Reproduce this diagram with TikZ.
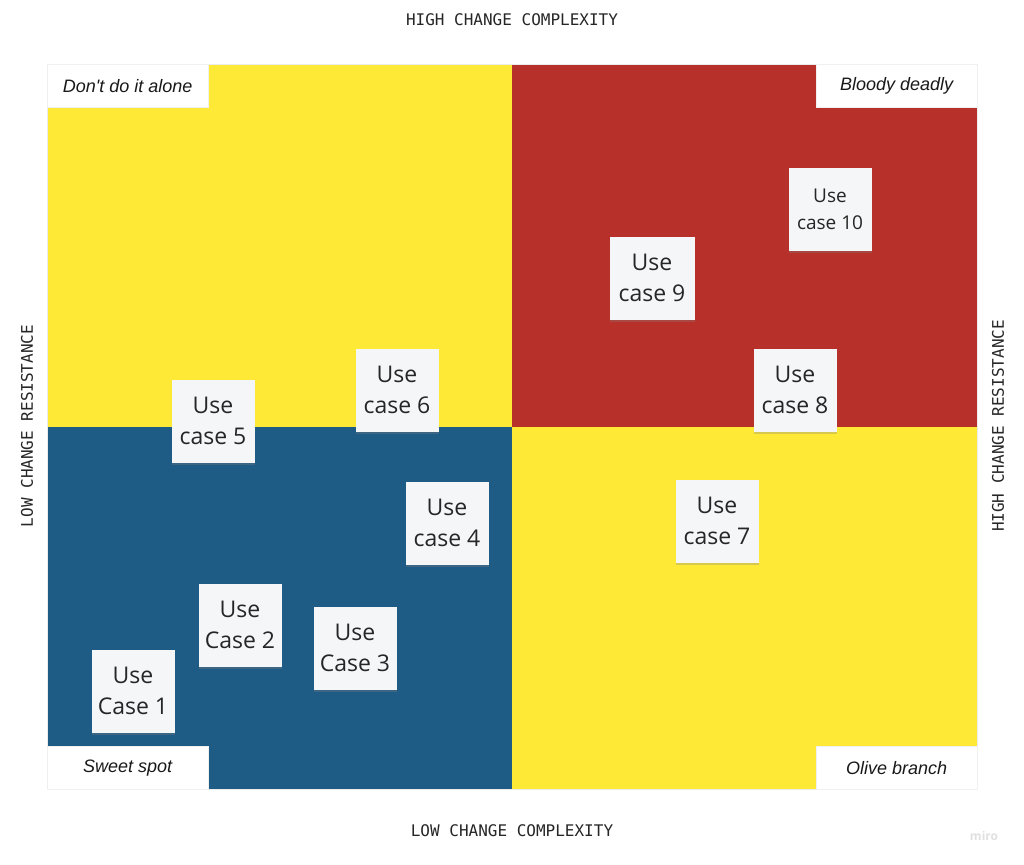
\documentclass[tikz,border=0pt]{standalone}
\usepackage{fontspec}
\setmainfont{Open Sans}
\newfontfamily\labelfont{Liberation Sans}
\newfontfamily\axisfont{DejaVu Sans Mono}
\usepackage{tikz}
\usetikzlibrary{positioning, shadows}

\definecolor{quadyellow}{RGB}{254,233,55}
\definecolor{quadred}{RGB}{184,48,42}
\definecolor{quadblue}{RGB}{31,92,133}
\definecolor{notefill}{RGB}{245,246,248}

\begin{document}
\begin{tikzpicture}[x=1pt, y=-1pt,
  quad/.style={rectangle, draw=none, anchor=north west, minimum width=465pt, minimum height=362.5pt, inner sep=0pt},
  corner/.style={rectangle, fill=white, draw=black!6, minimum width=161pt, minimum height=43pt, inner sep=0pt, font=\labelfont\itshape\fontsize{18}{20}\selectfont, text=black!90},
  note/.style={rectangle, fill=notefill, minimum width=83pt, minimum height=83pt, inner sep=0pt, align=center, text=black!85, font=\fontsize{23}{31}\selectfont, drop shadow={shadow xshift=0.5pt, shadow yshift=-2.5pt, opacity=0.3}},
  axis/.style={font=\axisfont\fontsize{16}{18}\selectfont, text=black!85}]

  \useasboundingbox (0,0) rectangle (1024,864);
  \fill[white] (0,0) rectangle (1024,864);

  % quadrants
  \node [quad, fill=quadyellow] (topleft) at (47,64) {};
  \node [quad, fill=quadred] (topright) at (512,64) {};
  \node [quad, fill=quadblue] (bottomleft) at (47,426.5) {};
  \node [quad, fill=quadyellow] (bottomright) at (512,426.5) {};
  \draw [black!8] (topleft.north west) rectangle (bottomright.south east);

  % corner labels
  \node [corner, anchor=north west] (alone) at (topleft.north west) {Don't do it alone};
  \node [corner, anchor=north east] (deadly) at (topright.north east) {Bloody deadly};
  \node [corner, anchor=south west] (sweet) at (bottomleft.south west) {Sweet spot};
  \node [corner, anchor=south east] (olive) at (bottomright.south east) {Olive branch};

  % axis labels
  \node [axis] (highcx) at (512,20) {HIGH CHANGE COMPLEXITY};
  \node [axis] (lowcx) at (512,831) {LOW CHANGE COMPLEXITY};
  \node [axis, rotate=90] (lowres) at (27,426) {LOW CHANGE RESISTANCE};
  \node [axis, rotate=90] (highres) at (998,426) {HIGH CHANGE RESISTANCE};

  % use cases
  \node [note] (uc1) at (133,691) {Use\\Case 1};
  \node [note] (uc2) at (240,625) {Use\\Case 2};
  \node [note] (uc3) at (355,648) {Use\\Case 3};
  \node [note] (uc4) at (447,523) {Use\\case 4};
  \node [note] (uc5) at (213,421) {Use\\case 5};
  \node [note] (uc6) at (397,390) {Use\\case 6};
  \node [note] (uc7) at (717,521) {Use\\case 7};
  \node [note] (uc8) at (795,390) {Use\\case 8};
  \node [note, minimum width=85pt] (uc9) at (652,278) {Use\\case 9};
  \node [note, font=\fontsize{19}{27}\selectfont] (uc10) at (830,209) {Use\\case 10};

  \node [font=\fontsize{12}{14}\selectfont\bfseries, text=black!12] (logo) at (984,836) {miro};
\end{tikzpicture}
\end{document}
